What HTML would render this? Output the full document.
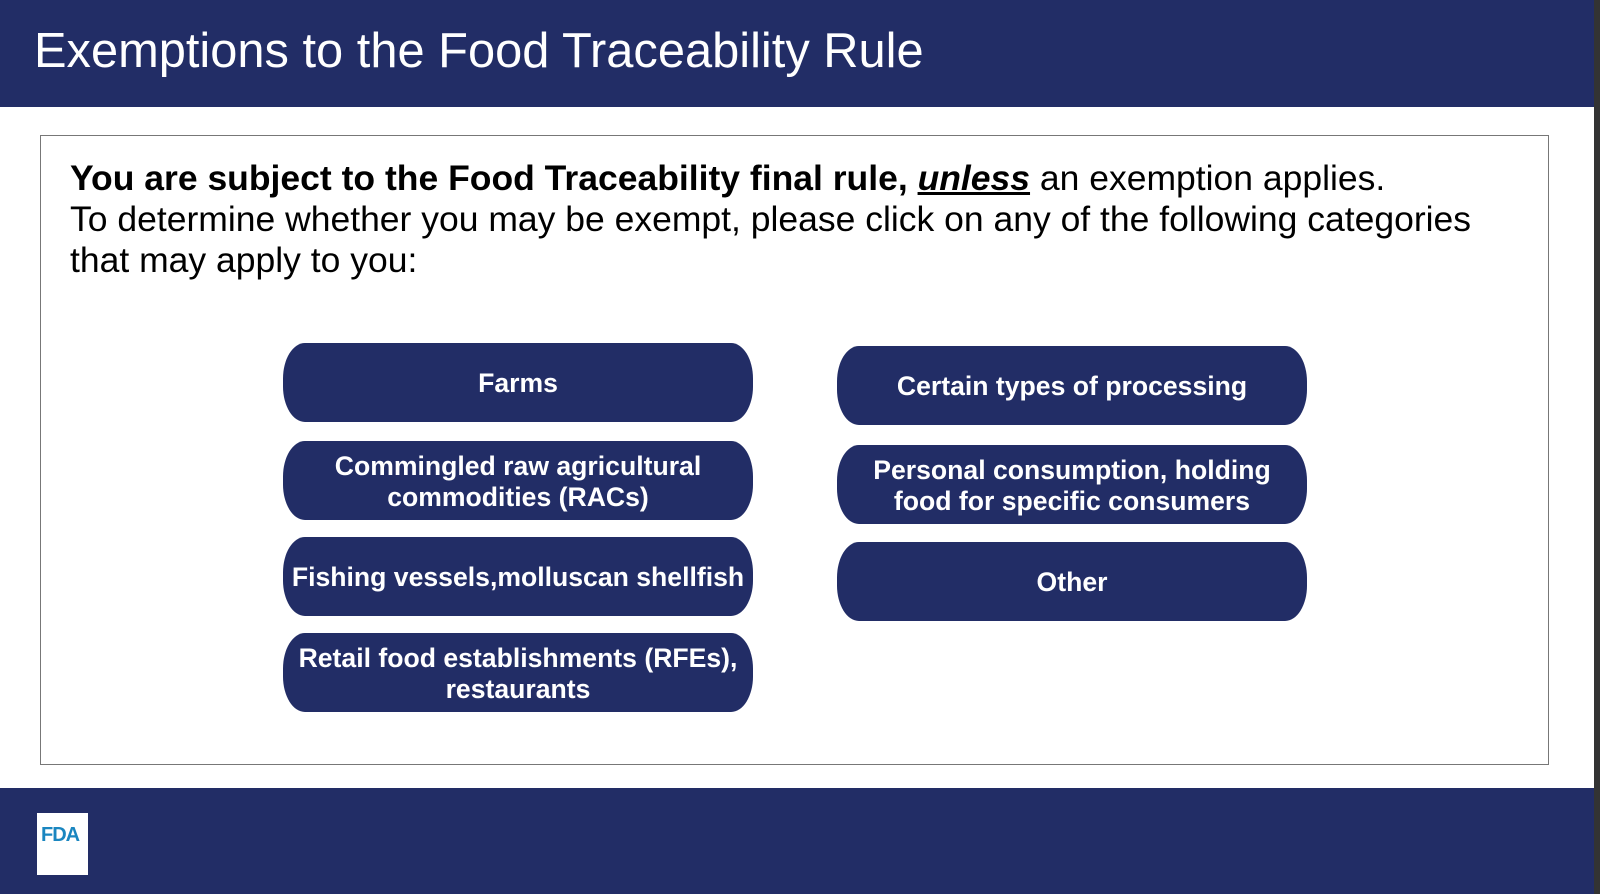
<!DOCTYPE html>
<html><head><meta charset="utf-8"><style>
*{margin:0;padding:0;box-sizing:border-box}
body{width:1600px;height:894px;background:#fff;position:relative;overflow:hidden;font-family:"Liberation Sans",Arial,sans-serif}
#hdr{position:absolute;left:0;top:0;width:1594px;height:107px;background:#222d66}
#hdr h1{position:absolute;left:34px;top:23px;font-weight:normal;color:#fff;font-size:48.8px;letter-spacing:0;white-space:nowrap}
#edge{position:absolute;left:1594px;top:0;width:6px;height:894px;background:#333}
#box{position:absolute;left:40px;top:135px;width:1509px;height:630px;border:1.5px solid #777}
#intro{position:absolute;left:70px;top:158px;font-size:35.5px;line-height:41px;color:#000;white-space:nowrap}
.btn{position:absolute;width:470px;height:79px;padding-top:2px;background:#222d66;color:#fff;border-radius:22px/45%;font-weight:bold;font-size:26.6px;line-height:31px;display:flex;align-items:center;justify-content:center;text-align:center;cursor:pointer;white-space:nowrap}
#ftr{position:absolute;left:0;top:788px;width:1594px;height:106px;background:#222d66}
#logo{position:absolute;left:37px;top:813px;width:51px;height:62px;background:#fff}
#logo span{position:absolute;left:4px;top:11px;font-weight:bold;font-size:20px;color:#1a86c0;letter-spacing:-1px}
</style></head><body>
<div id="hdr"><h1>Exemptions to the Food Traceability Rule</h1></div>
<div id="edge"></div>
<div id="box"></div>
<div id="intro"><b>You are subject to the Food Traceability final rule, <i><u>unless</u></i></b> an exemption applies.<br>To determine whether you may be exempt, please click on any of the following categories<br>that may apply to you:</div>
<div class="btn" style="left:283px;top:343px">Farms</div>
<div class="btn" style="left:283px;top:441px">Commingled raw agricultural<br>commodities (RACs)</div>
<div class="btn" style="left:283px;top:537px">Fishing vessels,molluscan shellfish</div>
<div class="btn" style="left:283px;top:633px">Retail food establishments (RFEs),<br>restaurants</div>
<div class="btn" style="left:837px;top:346px">Certain types of processing</div>
<div class="btn" style="left:837px;top:445px">Personal consumption, holding<br>food for specific consumers</div>
<div class="btn" style="left:837px;top:542px">Other</div>
<div id="ftr"></div>
<div id="logo"><span>FDA</span></div>
</body></html>
